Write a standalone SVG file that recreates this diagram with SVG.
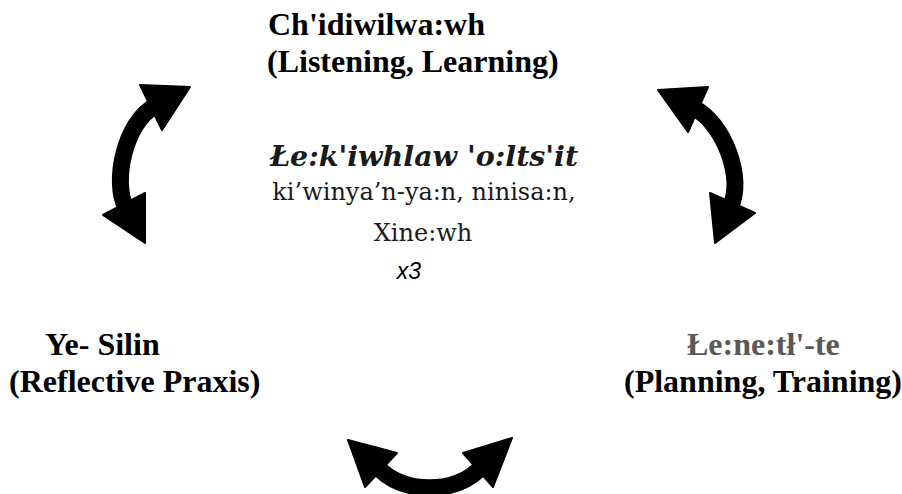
<svg xmlns="http://www.w3.org/2000/svg" width="902" height="494" viewBox="0 0 902 494">
<style>
.t{font-family:"Liberation Serif","Times New Roman",serif;font-weight:bold;font-size:32px;fill:#000}
.g{fill:#595959}
.c{font-family:"DejaVu Serif",serif;fill:#1a1a1a}
.arc{fill:none;stroke:#000;stroke-width:17}
.hd{fill:#000;stroke:#000;stroke-width:2;stroke-linejoin:round}
</style>
<rect width="902" height="494" fill="#fff"/>
<g id="node-top">
<text class="t" x="268" y="35">Ch'idiwilwa:wh</text>
<text class="t" x="267" y="72">(Listening, Learning)</text>
</g>
<g id="node-left">
<text class="t" x="45" y="355">Ye- Silin</text>
<text class="t" x="9" y="392">(Reflective Praxis)</text>
</g>
<g id="node-right">
<text class="t g" x="687" y="355">Łe:ne:tł'-te</text>
<text class="t" x="624" y="392">(Planning, Training)</text>
</g>
<g id="node-center">
<text class="c" x="424" y="166" text-anchor="middle" font-weight="bold" font-style="italic" font-size="28.5">Łe:k'iwhlaw 'o:lts'it</text>
<text class="c" x="424" y="200" text-anchor="middle" font-size="24">ki’winya’n-ya:n, ninisa:n,</text>
<text class="c" x="423" y="241" text-anchor="middle" font-size="24">Xine:wh</text>
<text x="409" y="279" text-anchor="middle" font-family="Liberation Sans, Arial, sans-serif" font-style="italic" font-size="23">x3</text>
</g>
<g id="connectors">
<path class="arc" d="M155,106 C125,122 112,182 126,208"/>
<polygon class="hd" points="190,87 140,85 162,130"/>
<polygon class="hd" points="145,243 103,215 145,193"/>
<path class="arc" d="M694,108 C724,123 745,180 730,207"/>
<polygon class="hd" points="658,90 708,87 688,132"/>
<polygon class="hd" points="715,243 710,193 755,213"/>
<path class="arc" d="M377,466 C400,495 459,495 482,466"/>
<polygon class="hd" points="348,440 397,453 365,487"/>
<polygon class="hd" points="512,438 463,453 493,487"/>
</g>
</svg>
